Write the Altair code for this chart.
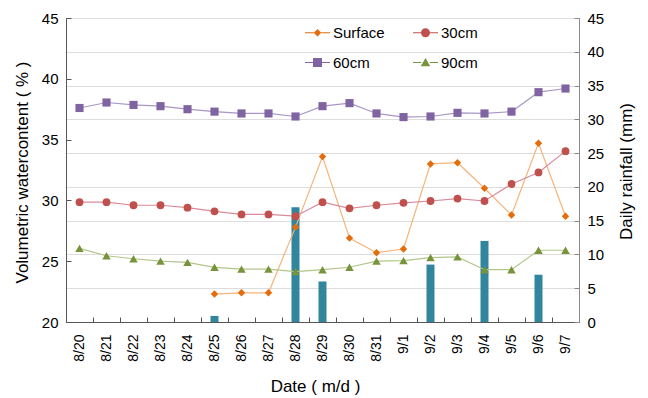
import altair as alt
import pandas as pd

dates = ['8/20', '8/21', '8/22', '8/23', '8/24', '8/25', '8/26', '8/27', '8/28', '8/29',
         '8/30', '8/31', '9/1', '9/2', '9/3', '9/4', '9/5', '9/6', '9/7']
surface = [None, None, None, None, None, 22.3, 22.4, 22.4, 27.8, 33.6,
           26.9, 25.7, 26.0, 33.0, 33.1, 31.0, 28.8, 34.7, 28.7]
cm30 = [29.85, 29.85, 29.6, 29.6, 29.4, 29.1, 28.85, 28.85, 28.7, 29.85,
        29.35, 29.6, 29.8, 29.95, 30.15, 29.95, 31.35, 32.3, 34.05]
cm60 = [37.6, 38.05, 37.85, 37.75, 37.5, 37.3, 37.15, 37.15, 36.9, 37.75,
        38.0, 37.15, 36.85, 36.9, 37.2, 37.15, 37.3, 38.9, 39.2]
cm90 = [26.05, 25.45, 25.2, 25.0, 24.9, 24.5, 24.35, 24.35, 24.15, 24.3,
        24.5, 25.0, 25.05, 25.3, 25.35, 24.3, 24.3, 25.9, 25.9]
rain = [0, 0, 0, 0, 0, 0.9, 0, 0, 17.0, 6.0, 0, 0, 0, 8.5, 0, 12.0, 0, 7.0, 0]

series_names = ['Surface', '30cm', '60cm', '90cm']
marker_colors = ['#E46C0A', '#C0504D', '#8064A2', '#77933C']
line_colors = ['#F6B47A', '#D98A9A', '#A797C6', '#B2C68A']
shapes = ['diamond', 'circle', 'square', 'triangle-up']
sizes = [55, 72, 80, 72]

# legend glyphs: short line with the marker in its middle (unit coordinates)
legend_glyphs = [
    'M-1,-0.04L-0.3,-0.04L-0.3,0.04L-1,0.04Z M0.3,-0.04L1,-0.04L1,0.04L0.3,0.04Z M0,-0.3L0.3,0L0,0.3L-0.3,0Z',
    'M-1,-0.04L-0.33,-0.04L-0.33,0.04L-1,0.04Z M0.33,-0.04L1,-0.04L1,0.04L0.33,0.04Z M0.36,0A0.36,0.36,0,1,1,-0.36,0A0.36,0.36,0,1,1,0.36,0Z',
    'M-1,-0.04L-0.34,-0.04L-0.34,0.04L-1,0.04Z M0.34,-0.04L1,-0.04L1,0.04L0.34,0.04Z M-0.36,-0.36L0.36,-0.36L0.36,0.36L-0.36,0.36Z',
    'M-1,-0.04L-0.34,-0.04L-0.34,0.04L-1,0.04Z M0.34,-0.04L1,-0.04L1,0.04L0.34,0.04Z M0,-0.36L0.38,0.3L-0.38,0.3Z',
]

rows = []
for name, vals in zip(series_names, [surface, cm30, cm60, cm90]):
    for d, v in zip(dates, vals):
        if v is not None:
            rows.append({'date': d, 'series': name, 'value': v})
df = pd.DataFrame(rows)
rain_df = pd.DataFrame({'date': dates, 'rain': rain})
rain_df = rain_df[rain_df['rain'] > 0]

FONT = 'Liberation Sans'

x_enc = alt.X('date:N', sort=dates,
              scale=alt.Scale(domain=dates, paddingInner=0, paddingOuter=0),
              axis=alt.Axis(title='Date ( m/d )', labelAngle=270, labelFontSize=14,
                            labelAlign='right', labelBaseline='middle',
                            tickBand='extent', tickSize={'expr': '-5'},
                            labelPadding=17, domainColor='#555', tickColor='#555',
                            titleFontSize=17, titleFontWeight='normal',
                            titleX=249, titleY=64,
                            titleBaseline='middle', titleAlign='center'))

y_left = alt.Y('value:Q',
               scale=alt.Scale(domain=[20, 45], nice=False, zero=False),
               axis=alt.Axis(orient='left', title='Volumetric watercontent ( % )',
                             values=[20, 25, 30, 35, 40, 45], labelFontSize=15,
                             tickSize={'expr': '-5'}, labelPadding=13,
                             domainColor='#555', tickColor='#555',
                             titleFontSize=17, titleFontWeight='normal',
                             titleX=-44, titleY=154,
                             titleAlign='center', titleBaseline='middle'))

bars = alt.Chart(rain_df).mark_bar(size=8, color='#31859C').encode(
    x=x_enc,
    y=alt.Y('rain:Q', scale=alt.Scale(domain=[0, 45], nice=False),
            axis=alt.Axis(orient='right', title='Daily rainfall (mm)',
                          values=[0, 5, 10, 15, 20, 25, 30, 35, 40, 45], labelFontSize=15,
                          tickSize={'expr': '-5'}, labelPadding=13,
                          domainColor='#8a8a8a', tickColor='#8a8a8a',
                          titleFontSize=17, titleFontWeight='normal',
                          titleAngle=270, titleX=47, titleY=153,
                          titleAlign='center', titleBaseline='middle')),
)

lines = alt.Chart(df).mark_line(strokeWidth=1.2).encode(
    x=x_enc,
    y=y_left,
    color=alt.Color('series:N', scale=alt.Scale(domain=series_names, range=line_colors), legend=None),
    detail='series:N',
)

points = alt.Chart(df).mark_point(filled=True, opacity=1).encode(
    x=x_enc,
    y=y_left,
    color=alt.Color('series:N', scale=alt.Scale(domain=series_names, range=marker_colors), legend=None),
    shape=alt.Shape('series:N', scale=alt.Scale(domain=series_names, range=shapes), legend=None),
    size=alt.Size('series:N', scale=alt.Scale(domain=series_names, range=sizes), legend=None),
)

legend_layer = alt.Chart(df).transform_filter('false').mark_point(filled=True, opacity=1).encode(
    x=x_enc,
    y=y_left,
    color=alt.Color('series:N', scale=alt.Scale(domain=series_names, range=marker_colors),
                    legend=alt.Legend(title=None, orient='none', direction='horizontal',
                                      legendX=239, legendY=2,
                                      columns=2, columnPadding=28, rowPadding=9,
                                      labelFontSize=15, labelFont=FONT, labelOffset=3,
                                      symbolSize=625, symbolStrokeWidth=0, symbolOpacity=1)),
    shape=alt.Shape('series:N', scale=alt.Scale(domain=series_names, range=legend_glyphs)),
)

inner = alt.layer(lines, points, legend_layer).resolve_scale(
    color='independent', shape='independent', size='independent')

chart = alt.layer(bars, inner).resolve_scale(y='independent').properties(
    width=513, height=304,
    padding={'left': 66, 'top': 18, 'right': 69, 'bottom': 76},
    autosize=alt.AutoSizeParams(type='none'),
).configure_view(strokeWidth=0).configure_axis(
    grid=False, labelFont=FONT, titleFont=FONT, titleFontWeight='normal',
    labelColor='black', titleColor='black'
).configure(background='white')

chart.save("out.html", embed_options={"renderer": "svg", "actions": False})
